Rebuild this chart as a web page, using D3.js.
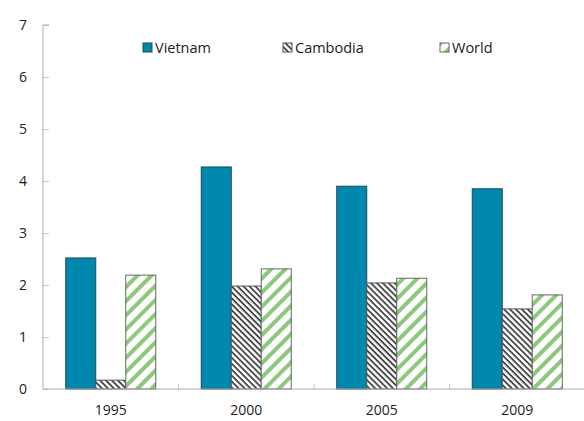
<!DOCTYPE html>
<html><head><meta charset="utf-8">
<script src="https://cdn.jsdelivr.net/npm/d3@7"></script>
<style>body{margin:0;background:#fff}svg{display:block}text{font-family:"Open Sans","DejaVu Sans",sans-serif;fill:#222}</style>
</head><body><svg id="c" width="584" height="421"></svg>
<script>
const years = ["1995","2000","2005","2009"];
const seriesNames = ["Vietnam","Cambodia","World"];
const vietnam = [2.52, 4.27, 3.90, 3.85];
const cambodia = [0.17, 1.98, 2.04, 1.54];
const world = [2.19, 2.31, 2.13, 1.81];
const yTicks = [0,1,2,3,4,5,6,7];

const svg = d3.select("#c");
const defs = svg.append("defs");
const hatch = defs.append("pattern").attr("id","hatch").attr("patternUnits","userSpaceOnUse")
  .attr("width",4.2).attr("height",4.2).attr("patternTransform","rotate(45)");
hatch.append("rect").attr("width",4.2).attr("height",4.2).attr("fill","#fff");
hatch.append("rect").attr("width",4.2).attr("height",1.8).attr("fill","#444");
const stripes = defs.append("pattern").attr("id","stripes").attr("patternUnits","userSpaceOnUse")
  .attr("width",10).attr("height",10).attr("patternTransform","rotate(-45)");
stripes.append("rect").attr("width",10).attr("height",10).attr("fill","#fff");
stripes.append("rect").attr("width",10).attr("height",4).attr("fill","#8cc97a");

const fills = ["#0087ad","url(#hatch)","url(#stripes)"];
const strokes = ["#1b4a5a","#555","#666"];
const data = [vietnam, cambodia, world];

const x0 = 43, x1 = 585, yTop = 25, yBot = 389;
const x = d3.scaleBand().domain(years).range([x0,x1]);
const y = d3.scaleLinear().domain([0,7]).range([yBot,yTop]);
const xs = d3.scaleBand().domain(seriesNames).range([0,90]);

const g = svg.append("g");
years.forEach((yr,i)=>{
  const gx = x(yr) + x.bandwidth()/2 - 45;
  seriesNames.forEach((s,j)=>{
    g.append("rect").attr("x",gx + xs(s)).attr("y",y(data[j][i]))
      .attr("width",xs.bandwidth()).attr("height",yBot - y(data[j][i]))
      .attr("fill",fills[j]).attr("stroke",strokes[j]).attr("stroke-width",1);
  });
});

const yAxis = svg.append("g").attr("transform",`translate(${x0},0)`)
  .call(d3.axisRight(y).tickValues(yTicks).tickSize(6).tickFormat(""));
yAxis.select(".domain").remove();
yAxis.selectAll("line").attr("stroke","#c8c8c8");
// category boundary ticks
svg.selectAll(".xt").data(years.slice(1)).join("line")
  .attr("x1",d=>x(d)).attr("x2",d=>x(d)).attr("y1",yBot).attr("y2",yBot-5).attr("stroke","#c8c8c8");
svg.append("line").attr("x1",x0).attr("x2",x0).attr("y1",yTop).attr("y2",yBot).attr("stroke","#aaa");
svg.append("line").attr("x1",x0).attr("x2",x1).attr("y1",yBot).attr("y2",yBot).attr("stroke","#aaa");
svg.append("line").attr("x1",x0).attr("x2",x0+6).attr("y1",yTop).attr("y2",yTop).attr("stroke","#aaa");

svg.selectAll(".yl").data(yTicks).join("text").attr("x",27).attr("y",d=>y(d)+5)
  .attr("text-anchor","end").attr("font-size",14).text(d=>d);
svg.selectAll(".xl").data(years).join("text").attr("x",d=>x(d)+x.bandwidth()/2).attr("y",yBot+26)
  .attr("text-anchor","middle").attr("font-size",14).text(d=>d);

const legX = [143, 283, 440];
seriesNames.forEach((s,j)=>{
  svg.append("rect").attr("x",legX[j]).attr("y",43).attr("width",9).attr("height",9)
    .attr("fill",fills[j]).attr("stroke",strokes[j]);
  svg.append("text").attr("x",legX[j]+12).attr("y",53).attr("font-size",14.5).text(s);
});
</script></body></html>
